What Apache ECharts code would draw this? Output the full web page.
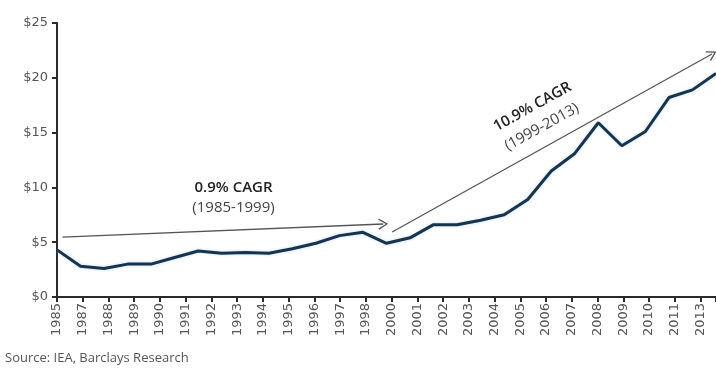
<!DOCTYPE html>
<html><head><meta charset="utf-8">
<script src="https://cdn.jsdelivr.net/npm/echarts@6/dist/echarts.min.js"></script>
<style>html,body{margin:0;padding:0;background:#fff}#c{width:716px;height:372px}</style>
</head><body><div id="c"></div>
<script>
// ---- data ----
const years = [1985,1986,1987,1988,1989,1990,1991,1992,1993,1994,1995,1996,1997,1998,1999,
               2000,2001,2002,2003,2004,2005,2006,2007,2008,2009,2010,2011,2012,2013];
const prices = [4.3,2.8,2.6,3.0,3.0,3.6,4.2,4.0,4.05,4.0,4.4,4.9,5.6,5.9,4.9,
                5.4,6.6,6.6,7.0,7.5,8.9,11.5,13.1,15.9,13.8,15.1,18.2,18.9,20.4];
const xTickLabels = ['1985','1987','1988','1989','1990','1991','1992','1993','1994','1995','1996','1997','1998',
                     '2000','2001','2002','2003','2004','2005','2006','2007','2008','2009','2010','2011','2013'];
const yTickLabels = ['$0','$5','$10','$15','$20','$25'];
const arrowLow = [[1985.23,5.47],[1998.86,6.66]];
const arrowHigh = [[1999.24,5.93],[2012.83,22.17]];
const noteLow = ['0.9% CAGR','(1985-1999)'];
const noteHigh = ['10.9% CAGR','(1999-2013)'];
const sourceText = 'Source: IEA, Barclays Research';

// ---- chart ----
const chart = echarts.init(document.getElementById('c'), null, {renderer:'canvas'});
const axisCol = '#2b2b2b';
const labelCol = '#555';
const chevron = 'path://M5,0 L10,9 L9,10 L5,2.4 L1,10 L0,9 Z';
function note(coord, text, rot, bold){
  return {coord: coord, symbol:'circle', symbolSize:1,
    itemStyle:{color:'rgba(0,0,0,0)'},
    label:{show:true, position:'inside', formatter:text, rotate:rot,
      fontFamily:'Open Sans', fontSize:15, fontWeight: bold?600:400,
      color: bold?'#222':'#444'}};
}
chart.setOption({
  animation:false,
  backgroundColor:'#fff',
  grid:{left:57, right:0, top:23, bottom:75, containLabel:false},
  title:{text:sourceText, left:0, bottom:2,
    textStyle:{fontFamily:'Open Sans', fontSize:13, fontWeight:400, color:'#555'}},
  xAxis:[{
    type:'value', min:0, max:25.6, interval:1,
    axisLine:{show:true, lineStyle:{color:axisCol, width:2}},
    axisTick:{show:true, length:5, lineStyle:{color:axisCol, width:2}},
    splitLine:{show:false},
    axisLabel:{rotate:90, margin:6, fontFamily:'DejaVu Sans', fontSize:13, color:labelCol,
      formatter:v=> Number.isInteger(v) && xTickLabels[v] ? xTickLabels[v] : ''}
  },{
    type:'value', min:years[0], max:years[years.length-1], show:false
  }],
  yAxis:{
    type:'value', min:0, max:25, interval:5,
    axisLine:{show:true, lineStyle:{color:axisCol, width:2}},
    axisTick:{show:true, length:5, lineStyle:{color:axisCol, width:2}},
    splitLine:{show:false},
    axisLabel:{margin:9, fontFamily:'DejaVu Sans', fontSize:13, color:labelCol,
      formatter:v=> yTickLabels[Math.round(v/5)]}
  },
  series:[{
    type:'line', xAxisIndex:1, showSymbol:false, symbol:'none', clip:false,
    data: years.map((y,i)=>[y, prices[i]]),
    lineStyle:{color:'#17344f', width:3, shadowColor:'rgba(110,170,220,0.45)', shadowBlur:3},
    markLine:{
      silent:true, animation:false,
      symbol:['none', chevron], symbolSize:[11,10],
      lineStyle:{color:'#555', width:1.3, type:'solid'},
      label:{show:false},
      emphasis:{disabled:true},
      data:[
        [{coord:arrowLow[0]},{coord:arrowLow[1]}],
        [{coord:arrowHigh[0]},{coord:arrowHigh[1]}]
      ]
    },
    markPoint:{
      silent:true, animation:false,
      data:[
        note([1992.5, 9.95], noteLow[0], 0, true),
        note([1992.5, 8.1], noteLow[1], 0, false),
        note([2005.2, 17.35], noteHigh[0], 29, true),
        note([2005.6, 15.5], noteHigh[1], 29, false)
      ]
    }
  }]
});
</script></body></html>
